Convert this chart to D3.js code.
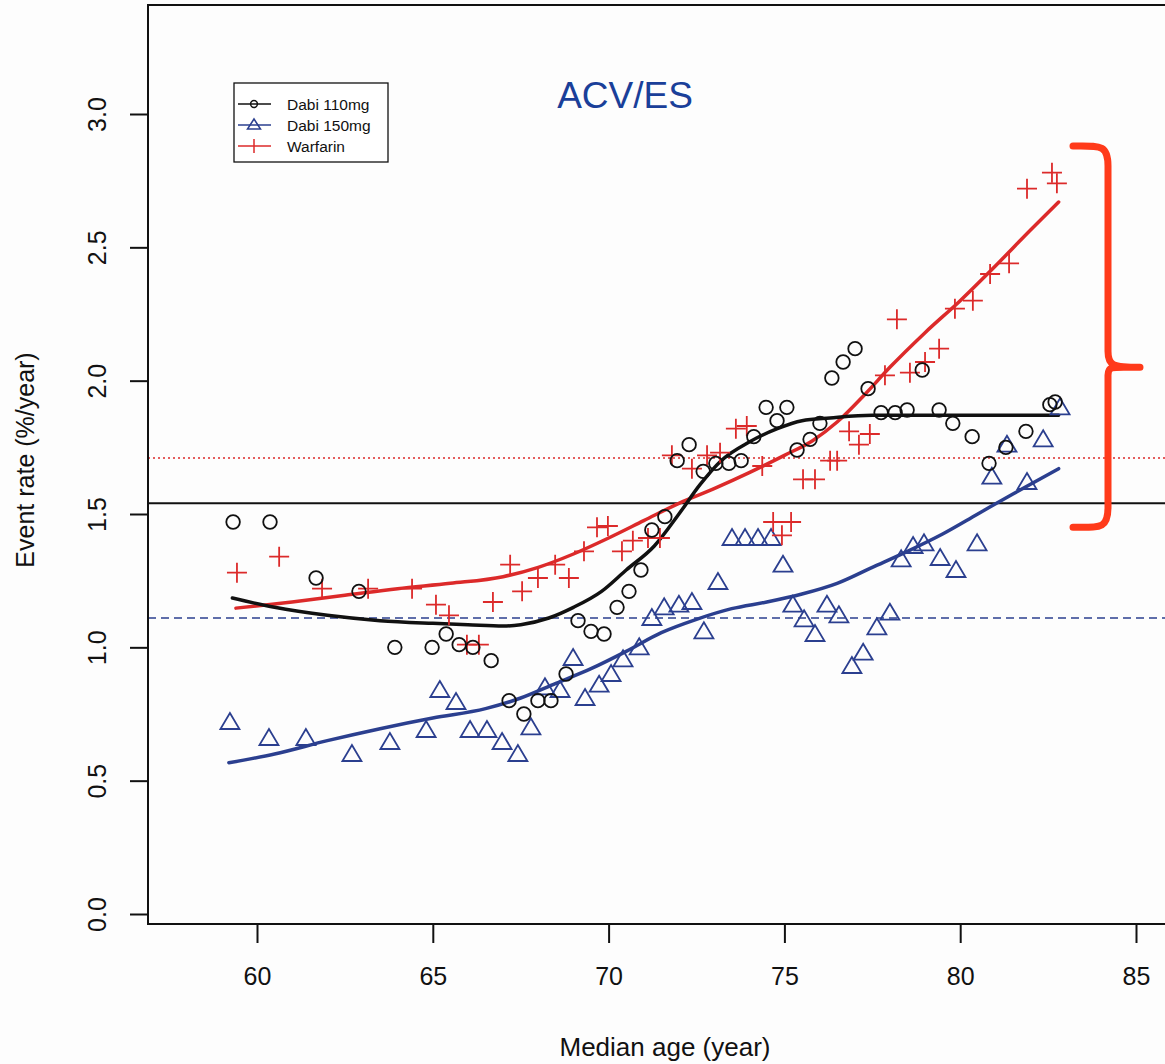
<!DOCTYPE html>
<html lang="en">

<head>
    <meta charset="utf-8">
    <title>ACV/ES event rate by median age</title>
    <script type="text/javascript" src="https://cdn.jsdelivr.net/npm/d3@7"></script>
    <style type="text/css">
    body {
        margin: 0;
        background: #fdfdfd;
    }

    svg text {
        font-family: "Liberation Sans", Helvetica, Arial, sans-serif;
    }

    .axis path {
        display: none;
    }

    .axis line {
        stroke: #111;
        stroke-width: 2px;
    }

    .axis text {
        font-size: 25px;
        fill: #111;
    }
    </style>
</head>

<body>
    <script type="text/javascript">
    //data: Dabi 110mg (circles)
    var dabi110Age = [59.32, 60.37, 61.68, 62.90, 63.92, 64.98, 65.38, 65.75, 66.14, 66.66,
        67.17, 67.59, 67.99, 68.36, 68.79, 69.13, 69.50, 69.87, 70.24, 70.58,
        70.92, 71.23, 71.60, 71.95, 72.29, 72.69, 73.05, 73.42, 73.77, 74.13,
        74.48, 74.79, 75.07, 75.36, 75.73, 76.01, 76.35, 76.67, 77.01, 77.38,
        77.75, 78.15, 78.49, 78.92, 79.40, 79.79, 80.34, 80.82, 81.30, 81.87,
        82.55, 82.70];
    var dabi110Rate = [1.47, 1.47, 1.26, 1.21, 1.00, 1.00, 1.05, 1.01, 1.00, 0.95,
        0.80, 0.75, 0.80, 0.80, 0.90, 1.10, 1.06, 1.05, 1.15, 1.21,
        1.29, 1.44, 1.49, 1.70, 1.76, 1.66, 1.69, 1.69, 1.70, 1.79,
        1.90, 1.85, 1.90, 1.74, 1.78, 1.84, 2.01, 2.07, 2.12, 1.97,
        1.88, 1.88, 1.89, 2.04, 1.89, 1.84, 1.79, 1.69, 1.75, 1.81,
        1.91, 1.92];

    //data: Dabi 150mg (triangles)
    var dabi150Age = [59.23, 60.34, 61.39, 62.70, 63.78, 64.81, 65.20, 65.66, 66.06, 66.54,
        66.97, 67.42, 67.79, 68.19, 68.62, 68.99, 69.33, 69.73, 70.07, 70.41,
        70.87, 71.23, 71.58, 72.00, 72.37, 72.71, 73.11, 73.51, 73.88, 74.25,
        74.62, 74.96, 75.24, 75.56, 75.87, 76.21, 76.55, 76.92, 77.24, 77.63,
        78.00, 78.32, 78.66, 78.97, 79.43, 79.88, 80.48, 80.90, 81.33, 81.90,
        82.36, 82.84];
    var dabi150Rate = [0.72, 0.66, 0.66, 0.60, 0.645, 0.69, 0.84, 0.795, 0.69, 0.69,
        0.645, 0.60, 0.70, 0.85, 0.84, 0.96, 0.81, 0.86, 0.90, 0.955,
        1.00, 1.11, 1.15, 1.16, 1.17, 1.06, 1.245, 1.41, 1.41, 1.41,
        1.41, 1.31, 1.16, 1.105, 1.05, 1.16, 1.12, 0.93, 0.98, 1.075,
        1.13, 1.33, 1.38, 1.39, 1.335, 1.29, 1.39, 1.64, 1.76, 1.62,
        1.78, 1.90];

    //data: Warfarin (crosses)
    var warfAge = [59.43, 60.63, 61.85, 63.16, 64.41, 65.09, 65.46, 65.97, 66.31, 66.71,
        67.20, 67.54, 67.99, 68.48, 68.87, 69.30, 69.67, 69.98, 70.38, 70.69,
        71.12, 71.46, 71.80, 72.37, 72.80, 73.17, 73.62, 73.93, 74.37, 74.68,
        74.93, 75.19, 75.53, 75.87, 76.30, 76.50, 76.84, 77.12, 77.43, 77.86,
        78.20, 78.57, 79.00, 79.40, 79.85, 80.36, 80.85, 81.39, 81.90, 82.61,
        82.75];
    var warfRate = [1.28, 1.34, 1.22, 1.22, 1.22, 1.16, 1.12, 1.01, 1.01, 1.17,
        1.31, 1.21, 1.26, 1.31, 1.26, 1.36, 1.45, 1.455, 1.36, 1.40,
        1.41, 1.41, 1.72, 1.67, 1.72, 1.73, 1.82, 1.83, 1.68, 1.47,
        1.42, 1.47, 1.63, 1.63, 1.70, 1.70, 1.81, 1.76, 1.80, 2.02,
        2.23, 2.03, 2.07, 2.12, 2.27, 2.30, 2.40, 2.44, 2.72, 2.78,
        2.74];

    //smoothed curves
    var smooth110Age = [59.3, 60.5, 62.0, 63.5, 65.0, 66.0, 67.0, 67.5, 68.3, 69.0, 69.8, 70.5,
        71.3, 72.0, 72.6, 73.2, 74.0, 74.8, 75.5, 76.3, 77.5, 79.0, 81.0, 82.8];
    var smooth110Rate = [1.185, 1.15, 1.12, 1.10, 1.09, 1.085, 1.08, 1.085, 1.11, 1.15, 1.21, 1.29,
        1.38, 1.50, 1.61, 1.70, 1.77, 1.82, 1.85, 1.86, 1.87, 1.87, 1.87, 1.87];
    var smooth150Age = [59.2, 60.5, 62.0, 63.5, 65.0, 66.5, 67.5, 68.5, 69.5, 70.5, 71.5,
        72.5, 73.5, 74.5, 75.5, 76.5, 77.5, 78.5, 79.5, 80.5, 81.5, 82.8];
    var smooth150Rate = [0.567, 0.60, 0.65, 0.695, 0.735, 0.77, 0.81, 0.865, 0.92, 0.985, 1.055,
        1.105, 1.145, 1.17, 1.20, 1.24, 1.30, 1.36, 1.425, 1.50, 1.575, 1.67];
    var smoothWarfAge = [59.4, 61.0, 62.5, 64.0, 65.5, 67.0, 68.0, 69.0, 70.0, 71.0, 72.0, 73.0,
        74.0, 75.0, 75.8, 76.5, 77.3, 78.0, 79.0, 80.0, 81.0, 82.0, 82.8];
    var smoothWarfRate = [1.147, 1.17, 1.195, 1.22, 1.24, 1.265, 1.30, 1.35, 1.41, 1.475, 1.54, 1.595,
        1.655, 1.72, 1.775, 1.845, 1.95, 2.05, 2.18, 2.30, 2.43, 2.565, 2.67];

    //overall mean rates
    var meanDabi110 = 1.54;
    var meanDabi150 = 1.11;
    var meanWarf = 1.71;

    //tick values
    var xTicks = [60, 65, 70, 75, 80, 85];
    var yTicks = [0, 0.5, 1, 1.5, 2, 2.5, 3];
    var legendNames = ['Dabi 110mg', 'Dabi 150mg', 'Warfarin'];

    //colors
    var black = '#111111',
        blue = '#2b3f8f',
        red = '#dc2a2a';

    //size
    var w = 1165,
        h = 1064;
    var plot = { left: 148, top: 5, right: 1172, bottom: 924 };

    var svg = d3.select('body')
        .append('svg')
        .attr('width', w)
        .attr('height', h);

    //scales
    var x = d3.scaleLinear()
        .domain([60, 85])
        .range([257, 1136]);

    var y = d3.scaleLinear()
        .domain([0, 3])
        .range([914, 114]);

    function zip(a, b) {
        return a.map(function(v, i) { return [v, b[i]]; });
    }

    //reference lines
    var refs = [
        { v: meanDabi110, color: black, dash: null, width: 2 },
        { v: meanWarf, color: red, dash: '2,3', width: 1.6 },
        { v: meanDabi150, color: blue, dash: '8,5', width: 1.6 }
    ];
    svg.selectAll('.ref')
        .data(refs)
        .enter()
        .append('line')
        .attr('class', 'ref')
        .attr('x1', plot.left)
        .attr('x2', plot.right)
        .attr('y1', function(d) { return y(d.v); })
        .attr('y2', function(d) { return y(d.v); })
        .style('stroke', function(d) { return d.color; })
        .style('stroke-width', function(d) { return d.width; })
        .style('stroke-dasharray', function(d) { return d.dash; });

    //smoothed lines
    var line = d3.line()
        .x(function(d) { return x(d[0]); })
        .y(function(d) { return y(d[1]); })
        .curve(d3.curveMonotoneX);

    var curves = [
        { pts: zip(smooth150Age, smooth150Rate), color: blue },
        { pts: zip(smoothWarfAge, smoothWarfRate), color: red },
        { pts: zip(smooth110Age, smooth110Rate), color: black }
    ];
    svg.selectAll('.curve')
        .data(curves)
        .enter()
        .append('path')
        .attr('class', 'curve')
        .attr('d', function(d) { return line(d.pts); })
        .style('fill', 'none')
        .style('stroke', function(d) { return d.color; })
        .style('stroke-width', 3.5)
        .style('stroke-linecap', 'round');

    //markers
    var triPath = 'M0,-9L9.5,7L-9.5,7Z';

    svg.append('g')
        .selectAll('path')
        .data(zip(dabi150Age, dabi150Rate))
        .enter()
        .append('path')
        .attr('transform', function(d) { return 'translate(' + x(d[0]) + ',' + y(d[1]) + ')'; })
        .attr('d', triPath)
        .style('fill', 'none')
        .style('stroke', blue)
        .style('stroke-width', 1.8);

    svg.append('g')
        .selectAll('path')
        .data(zip(warfAge, warfRate))
        .enter()
        .append('path')
        .attr('transform', function(d) { return 'translate(' + x(d[0]) + ',' + y(d[1]) + ')'; })
        .attr('d', 'M-10,0H10M0,-10V10')
        .style('fill', 'none')
        .style('stroke', red)
        .style('stroke-width', 1.8);

    svg.append('g')
        .selectAll('circle')
        .data(zip(dabi110Age, dabi110Rate))
        .enter()
        .append('circle')
        .attr('cx', function(d) { return x(d[0]); })
        .attr('cy', function(d) { return y(d[1]); })
        .attr('r', 6.8)
        .style('fill', 'none')
        .style('stroke', black)
        .style('stroke-width', 1.8);

    //plot box
    svg.append('rect')
        .attr('x', plot.left)
        .attr('y', plot.top)
        .attr('width', plot.right - plot.left)
        .attr('height', plot.bottom - plot.top)
        .style('fill', 'none')
        .style('stroke', black)
        .style('stroke-width', 2);

    //axes
    var xAxis = d3.axisBottom(x)
        .tickValues(xTicks)
        .tickSize(19)
        .tickFormat(d3.format('d'));

    var yAxis = d3.axisLeft(y)
        .tickValues(yTicks)
        .tickSize(18)
        .tickFormat(d3.format('.1f'));

    svg.append('g')
        .attr('class', 'axis')
        .attr('transform', 'translate(0,' + plot.bottom + ')')
        .call(xAxis)
        .selectAll('text')
        .attr('y', 43);

    svg.append('g')
        .attr('class', 'axis')
        .attr('transform', 'translate(' + plot.left + ',0)')
        .call(yAxis)
        .selectAll('text')
        .attr('x', null)
        .attr('dy', '0.36em')
        .attr('text-anchor', 'middle')
        .attr('transform', 'translate(-51,0) rotate(-90)');

    //axis titles
    svg.append('text')
        .attr('x', 665)
        .attr('y', 1056)
        .attr('text-anchor', 'middle')
        .style('font-size', '26px')
        .style('fill', black)
        .text('Median age (year)');

    svg.append('text')
        .attr('transform', 'translate(34,460) rotate(-90)')
        .attr('text-anchor', 'middle')
        .style('font-size', '25px')
        .style('fill', black)
        .text('Event rate (%/year)');

    //title
    svg.append('text')
        .attr('x', 625)
        .attr('y', 108)
        .attr('text-anchor', 'middle')
        .style('font-size', '37px')
        .style('fill', '#1a3f99')
        .text('ACV/ES');

    //legend
    var legend = svg.append('g')
        .attr('transform', 'translate(234,83)');

    legend.append('rect')
        .attr('width', 154)
        .attr('height', 79)
        .style('fill', 'white')
        .style('stroke', black)
        .style('stroke-width', 1.3);

    var legendColors = [black, blue, red];
    var rows = legend.selectAll('.row')
        .data(legendNames)
        .enter()
        .append('g')
        .attr('class', 'row')
        .attr('transform', function(d, i) { return 'translate(0,' + (21 + i * 21) + ')'; });

    rows.append('line')
        .attr('x1', 4)
        .attr('x2', 37)
        .style('stroke', function(d, i) { return legendColors[i]; })
        .style('stroke-width', 1.5);

    rows.append('path')
        .attr('transform', 'translate(20,0)')
        .attr('d', function(d, i) {
            if (i == 0) return d3.symbol(d3.symbolCircle, 36)();
            if (i == 1) return 'M0,-6L6.5,4L-6.5,4Z';
            return 'M0,-7V7';
        })
        .style('fill', 'none')
        .style('stroke', function(d, i) { return legendColors[i]; })
        .style('stroke-width', 1.5);

    rows.append('text')
        .attr('x', 53)
        .attr('dy', '0.36em')
        .style('font-size', '15.5px')
        .style('fill', black)
        .text(function(d) { return d; });

    //bracket on the right
    var bTop = y(2.88),
        bBot = y(1.45),
        bMid = y(2.05);
    var brace = 'M1073,' + bTop +
        ' C1100,' + bTop + ' 1108,' + (bTop - 2) + ' 1108,' + (bTop + 20) +
        ' V' + (bMid - 16) +
        ' C1108,' + (bMid - 2) + ' 1112,' + bMid + ' 1140,' + bMid +
        ' M1108,' + (bMid + 8) +
        ' C1108,' + (bMid - 2) + ' 1112,' + bMid + ' 1140,' + bMid +
        ' M1108,' + (bMid + 8) +
        ' V' + (bBot - 20) +
        ' C1108,' + (bBot + 2) + ' 1100,' + bBot + ' 1073,' + bBot;

    svg.append('path')
        .attr('d', brace)
        .style('fill', 'none')
        .style('stroke', '#ff3a1a')
        .style('stroke-width', 7)
        .style('stroke-linecap', 'round')
        .style('stroke-linejoin', 'round');
    </script>
</body>

</html>
